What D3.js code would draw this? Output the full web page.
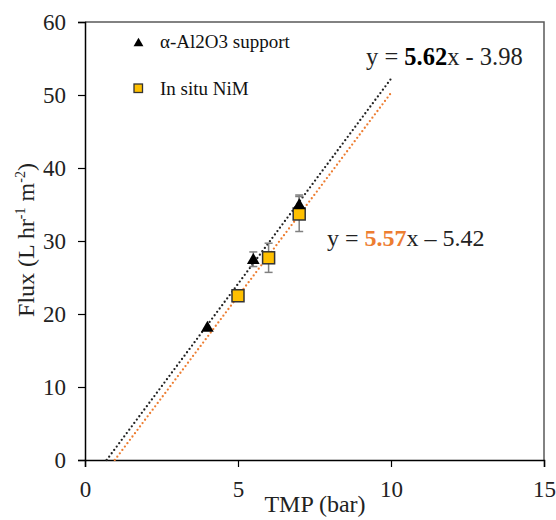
<!DOCTYPE html>
<html>
<head>
<meta charset="utf-8">
<script src="https://cdn.jsdelivr.net/npm/d3@7"></script>
<style>
  body { margin: 0; background: #fff; }
  svg text { font-family: "Liberation Serif", "Times New Roman"; }
</style>
</head>
<body>
<svg id="chart" width="556" height="520"></svg>
<script>
// data
var aluminaX = [4, 5.5, 7];
var aluminaY = [18.2, 27.5, 35.0];
var aluminaErr = [0, 1.0, 1.3];
var nimX = [5, 6, 7];
var nimY = [22.5, 27.7, 33.7];
var nimErr = [0, 2.0, 2.4];
var xTicks = [0, 5, 10, 15];
var yTicks = [0, 10, 20, 30, 40, 50, 60];
// trend lines: slope, intercept
var fitAlumina = [5.62, -3.98];
var fitNim = [5.57, -5.42];

var FONT = "'Liberation Serif', 'Times New Roman'";
var svg = d3.select("#chart");
var margin = {top: 22, right: 12, bottom: 60, left: 85};
var width = 556 - margin.left - margin.right;
var height = 520 - margin.top - margin.bottom;

var x = d3.scaleLinear().domain([0, 15]).range([0, width]);
var y = d3.scaleLinear().domain([0, 60]).range([height, 0]);

var g = svg.append("g").attr("transform", "translate(" + margin.left + "," + margin.top + ")");

// frame (top and right)
g.append("path")
  .attr("d", "M0,0H" + width + "V" + height)
  .attr("fill", "none").attr("stroke", "#595959").attr("stroke-width", 1.5);

// axes
var xAxis = g.append("g").attr("transform", "translate(0," + height + ")")
  .call(d3.axisBottom(x).tickValues(xTicks).tickSize(7).tickPadding(14));
var yAxis = g.append("g")
  .call(d3.axisLeft(y).tickValues(yTicks).tickSize(7).tickPadding(12));
[xAxis, yAxis].forEach(function(a) {
  a.attr("font-size", null).attr("font-family", null);
  a.select(".domain").attr("stroke", "#000").attr("stroke-width", 1.5);
  a.selectAll(".tick line").attr("stroke", "#000").attr("stroke-width", 1.2);
  a.selectAll("text").style("font-family", FONT).style("font-size", "23px").attr("fill", "#222");
});

// trend lines
function fitLine(fit, color) {
  var x0 = -fit[1] / fit[0];
  var pts = [[x0, 0], [10, fit[0] * 10 + fit[1]]];
  g.append("path")
    .attr("d", d3.line().x(function(d) { return x(d[0]); }).y(function(d) { return y(d[1]); })(pts))
    .attr("fill", "none").attr("stroke", color).attr("stroke-width", 2.3)
    .attr("stroke-dasharray", "0,4.2").attr("stroke-linecap", "round");
}
fitLine(fitAlumina, "#222");
fitLine(fitNim, "#ED7D31");

// error bars
function errBars(xs, ys, es) {
  xs.forEach(function(xv, i) {
    if (!es[i]) return;
    var eg = g.append("g").attr("stroke", "#808080").attr("stroke-width", 1.5);
    eg.append("line").attr("x1", x(xv)).attr("x2", x(xv)).attr("y1", y(ys[i] - es[i])).attr("y2", y(ys[i] + es[i]));
    [ys[i] - es[i], ys[i] + es[i]].forEach(function(v) {
      eg.append("line").attr("x1", x(xv) - 4).attr("x2", x(xv) + 4).attr("y1", y(v)).attr("y2", y(v));
    });
  });
}
errBars(aluminaX, aluminaY, aluminaErr);
errBars(nimX, nimY, nimErr);

var tri = d3.symbol().type(d3.symbolTriangle).size(70);

// squares
nimX.forEach(function(xv, i) {
  g.append("rect").attr("x", x(xv) - 6).attr("y", y(nimY[i]) - 6).attr("width", 12).attr("height", 12)
    .attr("fill", "#FFC000").attr("stroke", "#333").attr("stroke-width", 1.5);
});
// triangles
aluminaX.forEach(function(xv, i) {
  g.append("path").attr("d", tri).attr("transform", "translate(" + x(xv) + "," + (y(aluminaY[i]) + 1) + ")")
    .attr("fill", "#000");
});

// legend
svg.append("path").attr("d", d3.symbol().type(d3.symbolTriangle).size(42))
  .attr("transform", "translate(138.5,43.5)").attr("fill", "#000");
svg.append("text").attr("x", 160).attr("y", 48).style("font-family", FONT).style("font-size", "19px")
  .attr("fill", "#111").text("α-Al2O3  support");
svg.append("rect").attr("x", 134).attr("y", 84).attr("width", 8.5).attr("height", 8.5)
  .attr("fill", "#FFC000").attr("stroke", "#333").attr("stroke-width", 1.3);
svg.append("text").attr("x", 160).attr("y", 95).style("font-family", FONT).style("font-size", "19px")
  .attr("fill", "#111").text("In situ NiM");

// equations
var eq1 = svg.append("text").attr("x", 366).attr("y", 65).style("font-family", FONT).style("font-size", "24.5px").attr("fill", "#222");
eq1.append("tspan").text("y = ");
eq1.append("tspan").attr("font-weight", "bold").attr("fill", "#000").text(fitAlumina[0].toFixed(2));
eq1.append("tspan").text("x - " + Math.abs(fitAlumina[1]).toFixed(2));

var eq2 = svg.append("text").attr("x", 327).attr("y", 246).style("font-family", FONT).style("font-size", "24px").attr("fill", "#222");
eq2.append("tspan").text("y = ");
eq2.append("tspan").attr("font-weight", "bold").attr("fill", "#ED7D31").text(fitNim[0].toFixed(2));
eq2.append("tspan").text("x \u2013 " + Math.abs(fitNim[1]).toFixed(2));

// axis titles
svg.append("text").attr("x", 315).attr("y", 512).attr("text-anchor", "middle")
  .style("font-family", FONT).style("font-size", "24px").attr("fill", "#222").text("TMP (bar)");
var yt = svg.append("text").attr("transform", "translate(34,240) rotate(-90)")
  .attr("text-anchor", "middle").style("font-family", FONT).style("font-size", "24px").attr("fill", "#222");
yt.append("tspan").text("Flux (L hr");
yt.append("tspan").style("font-size", "14px").attr("dy", -9).text("-1");
yt.append("tspan").attr("dy", 9).text(" m");
yt.append("tspan").style("font-size", "14px").attr("dy", -9).text("-2");
yt.append("tspan").attr("dy", 9).text(")");
</script>
</body>
</html>
